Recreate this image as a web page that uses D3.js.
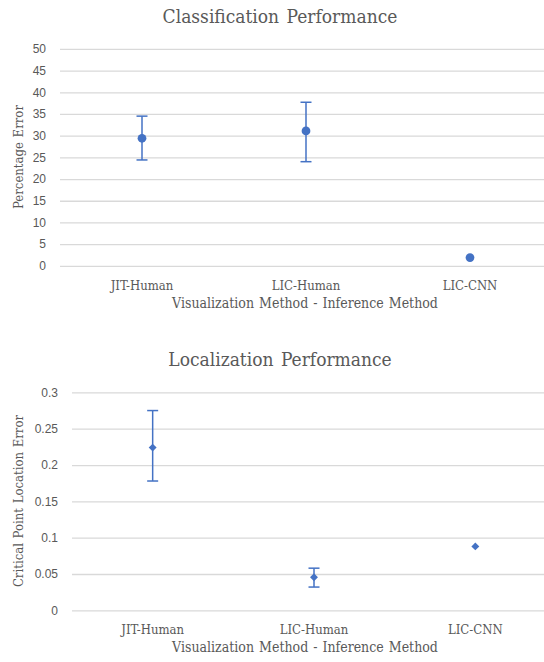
<!DOCTYPE html>
<html>
<head>
<meta charset="utf-8">
<script src="https://cdn.jsdelivr.net/npm/d3@7"></script>
<style>
  body { margin: 0; background: #fff; }
  .tick text { font-family: "Liberation Sans", Arial, sans-serif; font-size: 12px; fill: #595959; }
</style>
</head>
<body>
<div id="chart"></div>
<script>
const categories = ["JIT-Human", "LIC-Human", "LIC-CNN"];

// classification panel (percentage error)
const classMean = [29.4, 31.1, 1.9];
const classLow = [24.4, 24.0, null];
const classHigh = [34.5, 37.7, null];
const classTicks = [0, 5, 10, 15, 20, 25, 30, 35, 40, 45, 50];

// localization panel (critical point location error)
const locMean = [0.224, 0.0455, 0.088];
const locLow = [0.178, 0.032, null];
const locHigh = [0.275, 0.058, null];
const locTicks = [0, 0.05, 0.1, 0.15, 0.2, 0.25, 0.3];

const blue = "#4472C4";
const serif = "'DejaVu Serif Condensed', 'DejaVu Serif', serif";

const svg = d3.select("#chart")
  .append("svg")
  .attr("width", 544)
  .attr("height", 662);

function drawPanel(opts) {
  const g = svg.append("g");

  const xScale = d3.scaleBand().domain(categories).range(opts.xRange);
  const yScale = d3.scaleLinear().domain(opts.yDomain).range(opts.yRange);

  // gridlines
  g.append("g")
    .attr("transform", "translate(" + opts.xRange[0] + ",0)")
    .call(d3.axisLeft(yScale).tickValues(opts.ticks).tickSize(-(opts.xRange[1] - opts.xRange[0])).tickFormat(""))
    .call(a => a.select(".domain").remove())
    .call(a => a.selectAll("line").attr("stroke", "#d9d9d9").attr("stroke-width", 1.3));

  // tick labels
  g.append("g")
    .attr("transform", "translate(" + (opts.xRange[0] - 14) + ",0)")
    .call(d3.axisLeft(yScale).tickValues(opts.ticks).tickSize(0).tickPadding(0).tickFormat(d => String(d)))
    .call(a => a.select(".domain").remove());

  // category labels
  g.selectAll(".cat")
    .data(categories)
    .enter().append("text")
    .attr("class", "cat")
    .attr("x", d => xScale(d) + xScale.bandwidth() / 2)
    .attr("y", yScale(0) + 24)
    .attr("text-anchor", "middle")
    .style("font-family", serif)
    .style("font-size", "13px")
    .style("fill", "#595959")
    .text(d => d);

  // axis titles
  g.append("text")
    .attr("x", 305)
    .attr("y", yScale(0) + 42)
    .attr("text-anchor", "middle")
    .style("font-family", serif)
    .style("font-size", "14px")
    .style("fill", "#595959")
    .style("word-spacing", "1px")
    .text("Visualization Method - Inference Method");

  g.append("text")
    .attr("transform", "translate(23," + opts.yTitleY + ") rotate(-90)")
    .attr("text-anchor", "middle")
    .style("font-family", serif)
    .style("font-size", "13px")
    .style("fill", "#595959")
    .style("word-spacing", "1px")
    .text(opts.yTitle);

  g.append("text")
    .attr("x", 280)
    .attr("y", opts.titleY)
    .attr("text-anchor", "middle")
    .style("font-family", serif)
    .style("font-size", "19px")
    .style("fill", "#595959")
    .style("word-spacing", "2px")
    .text(opts.title);

  const rows = categories.map((c, i) => ({ cat: c, mean: opts.mean[i], low: opts.low[i], high: opts.high[i] }));
  const cx = d => xScale(d.cat) + xScale.bandwidth() / 2;

  // error bars
  const withErr = rows.filter(d => d.low != null);
  g.selectAll(".err")
    .data(withErr)
    .enter().append("line")
    .attr("x1", cx).attr("x2", cx)
    .attr("y1", d => yScale(d.low))
    .attr("y2", d => yScale(d.high))
    .attr("stroke", blue)
    .attr("stroke-width", 1.5);

  ["low", "high"].forEach(k => {
    g.selectAll(".cap-" + k)
      .data(withErr)
      .enter().append("line")
      .attr("x1", d => cx(d) - 5.5).attr("x2", d => cx(d) + 5.5)
      .attr("y1", d => yScale(d[k]))
      .attr("y2", d => yScale(d[k]))
      .attr("stroke", blue)
      .attr("stroke-width", 1.5);
  });

  // markers
  g.selectAll(".marker")
    .data(rows)
    .enter().append("path")
    .attr("transform", d => "translate(" + cx(d) + "," + yScale(d.mean) + ")")
    .attr("d", d3.symbol().type(opts.symbol).size(opts.symbolSize))
    .attr("fill", blue);
}

drawPanel({
  title: "Classification Performance",
  titleY: 23,
  yTitle: "Percentage Error",
  yTitleY: 157,
  xRange: [60, 552],
  yDomain: [0, 50],
  yRange: [265.8, 48.9],
  ticks: classTicks,
  mean: classMean, low: classLow, high: classHigh,
  symbol: d3.symbolCircle, symbolSize: 60
});

drawPanel({
  title: "Localization Performance",
  titleY: 366,
  yTitle: "Critical Point Location Error",
  yTitleY: 501,
  xRange: [72, 556],
  yDomain: [0, 0.3],
  yRange: [610.3, 392.4],
  ticks: locTicks,
  mean: locMean, low: locLow, high: locHigh,
  symbol: d3.symbolDiamond2, symbolSize: 40
});
</script>
</body>
</html>
